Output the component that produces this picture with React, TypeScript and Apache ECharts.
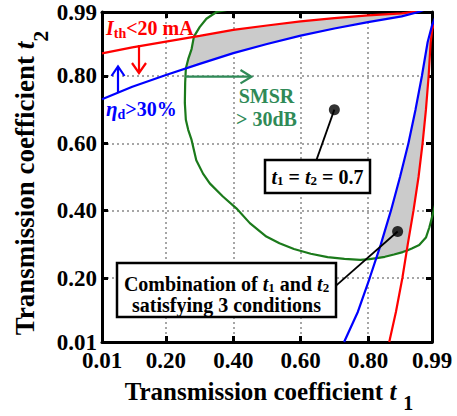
import React, { useEffect, useRef } from "react";
import * as echarts from "echarts";

const SERIF = '"Liberation Serif", "Times New Roman", Times, serif';

// axis values
const axisLabelValues = [0.01, 0.2, 0.4, 0.6, 0.8, 0.99];
const tickMarkValues = [0.2, 0.4, 0.6, 0.8];

// I_th < 20 mA boundary (red): upper branch (t1 -> t2) and right branch (bottom -> top)
const redUpper: number[][] = [
  [0.01, 0.867], [0.1, 0.885], [0.2, 0.902], [0.3, 0.919], [0.4, 0.937], [0.5, 0.95],
  [0.6, 0.962], [0.7, 0.972], [0.8, 0.98], [0.9, 0.986], [0.94, 0.991], [1.0, 1.02],
];
const redRight: number[][] = [
  [0.863, 0.01], [0.883, 0.1], [0.902, 0.2], [0.918, 0.3], [0.935, 0.4], [0.95, 0.5],
  [0.962, 0.6], [0.972, 0.7], [0.98, 0.8], [0.986, 0.9], [0.991, 0.94], [1.02, 1.0],
];

// eta_d > 30% boundary (blue)
const blueUpper: number[][] = [
  [0.01, 0.731], [0.1, 0.768], [0.2, 0.803], [0.3, 0.836], [0.4, 0.868], [0.5, 0.895],
  [0.6, 0.92], [0.7, 0.941], [0.8, 0.96], [0.9, 0.977], [0.95, 0.99], [1.0, 1.01],
];
const blueRight: number[][] = [
  [0.729, 0.01], [0.77, 0.1], [0.805, 0.2], [0.838, 0.3], [0.868, 0.4], [0.895, 0.5],
  [0.92, 0.6], [0.941, 0.7], [0.96, 0.8], [0.977, 0.9], [0.99, 0.95], [1.01, 1.0],
];

// crossings of the SMSR contour with the red / blue boundaries
const cornerRedTop = [0.283, 0.917];
const cornerBlueTop = [0.259, 0.822];
const cornerBlueBottom = [0.826, 0.259];
const cornerRedBottom = [0.916, 0.282];

// SMSR > 30 dB contour (green)
const smsrCurve: number[][] = [
  [0.4, 1.0], [0.35, 0.99], [0.32, 0.97], [0.3, 0.945], cornerRedTop, [0.276, 0.88],
  [0.266, 0.85], cornerBlueTop, [0.257, 0.78], [0.256, 0.72], [0.259, 0.67], [0.266, 0.64],
  [0.276, 0.61], [0.29, 0.55], [0.31, 0.51], [0.33, 0.481], [0.369, 0.442], [0.409, 0.407],
  [0.449, 0.363], [0.498, 0.323], [0.537, 0.303], [0.58, 0.286], [0.63, 0.272], [0.68, 0.262],
  [0.73, 0.257], [0.777, 0.254], [0.804, 0.256], cornerBlueBottom, [0.85, 0.263], [0.877, 0.27],
  [0.903, 0.277], cornerRedBottom, [0.93, 0.288], [0.952, 0.298], [0.972, 0.32], [0.982, 0.35],
  [0.99, 0.38], [1.0, 0.42],
];

// marked points and the ends of their leader lines
const markedPoints: number[][] = [[0.7, 0.7], [0.888, 0.338]];
const leaderTargets: number[][] = [[0.647, 0.551], [0.7, 0.173]];

const RED = "#ff0000";
const BLUE = "#0000ff";
const GREEN_CURVE = "#1b7a1b";
const GREEN_TEXT = "#2f8a57";
const GRAY_FILL = "#cbcbcb";

function buildRegion(): number[][] {
  const iBT = smsrCurve.indexOf(cornerBlueTop);
  const iRT = smsrCurve.indexOf(cornerRedTop);
  const iBB = smsrCurve.indexOf(cornerBlueBottom);
  const iRB = smsrCurve.indexOf(cornerRedBottom);
  const pts: number[][] = [];
  pts.push(cornerBlueTop);
  blueUpper.filter((p) => p[0] > cornerBlueTop[0]).forEach((p) => pts.push(p));
  blueRight.slice().reverse().filter((p) => p[1] > cornerBlueBottom[1]).forEach((p) => pts.push(p));
  smsrCurve.slice(iBB, iRB + 1).forEach((p) => pts.push(p));
  redRight.filter((p) => p[1] > cornerRedBottom[1]).forEach((p) => pts.push(p));
  redUpper.slice().reverse().filter((p) => p[0] > cornerRedTop[0]).forEach((p) => pts.push(p));
  smsrCurve.slice(iRT, iBT).forEach((p) => pts.push(p));
  return pts;
}

const tok = (size: number, italic: boolean, color: string, extra: any = {}) => ({
  fontSize: size,
  fontFamily: SERIF,
  fontWeight: "bold",
  fontStyle: italic ? "italic" : "normal",
  fill: color,
  color,
  ...extra,
});

export default function App() {
  const ref = useRef<HTMLDivElement>(null);
  useEffect(() => {
    if (!ref.current) return;
    const chart = echarts.init(ref.current, undefined, { renderer: "svg" });
    const region = buildRegion();
    const redFull = [...redUpper, ...redRight.slice().reverse()];
    const blueFull = [...blueUpper, ...blueRight.slice().reverse()];

    const mkX = (pos: "bottom" | "top") => ({
      type: "value",
      min: 0.01,
      max: 0.99,
      position: pos,
      axisLine: { show: true, onZero: false, lineStyle: { color: "#000", width: 3 } },
      axisTick: { show: true, inside: true, length: 6, customValues: tickMarkValues, lineStyle: { color: "#000", width: 3 } },
      axisLabel: {
        show: pos === "bottom",
        customValues: axisLabelValues,
        formatter: (v: number) => v.toFixed(2),
        fontSize: 23,
        fontWeight: "bold",
        fontFamily: SERIF,
        color: "#000",
        margin: 7,
      },
      splitLine: { show: pos === "bottom", lineStyle: { color: "#a6a6a6", width: 2, type: [2, 3] } },
    });
    const mkY = (pos: "left" | "right") => ({
      type: "value",
      min: 0.01,
      max: 0.99,
      position: pos,
      axisLine: { show: true, onZero: false, lineStyle: { color: "#000", width: 3 } },
      axisTick: { show: true, inside: true, length: 6, customValues: tickMarkValues, lineStyle: { color: "#000", width: 3 } },
      axisLabel: {
        show: pos === "left",
        customValues: axisLabelValues,
        formatter: (v: number) => v.toFixed(2),
        fontSize: 23,
        fontWeight: "bold",
        fontFamily: SERIF,
        color: "#000",
        margin: 5,
      },
      splitLine: { show: pos === "left", lineStyle: { color: "#a6a6a6", width: 2, type: [2, 3] } },
    });

    const lineSeries = (data: number[][], color: string, width = 2.2) => ({
      type: "line",
      data,
      showSymbol: false,
      symbol: "none",
      clip: true,
      z: 4,
      lineStyle: { color, width },
      emphasis: { disabled: true },
    });

    const option: any = {
      animation: false,
      grid: { left: 102, top: 12, width: 330, height: 330 },
      xAxis: [mkX("bottom"), mkX("top")],
      yAxis: [mkY("left"), mkY("right")],
      series: [
        {
          type: "custom",
          clip: true,
          z: 2,
          data: [[0.5, 0.5]],
          renderItem: (_p: any, api: any) => ({
            type: "polygon",
            shape: { points: region.map((p) => api.coord(p)) },
            style: { fill: GRAY_FILL, stroke: "none" },
          }),
        },
        lineSeries(smsrCurve, GREEN_CURVE),
        lineSeries(redFull, RED),
        lineSeries(blueFull, BLUE),
        ...markedPoints.map((p, i) => ({
          type: "line",
          data: [p, leaderTargets[i]],
          showSymbol: false,
          symbol: "none",
          z: 5,
          lineStyle: { color: "#000", width: 1.8 },
        })),
        {
          type: "scatter",
          data: markedPoints,
          symbol: "circle",
          symbolSize: 11,
          z: 6,
          itemStyle: { color: "#000" },
        },
      ],
      graphic: [
        // red annotation
        {
          type: "text", x: 106, y: 28, z: 100,
          style: {
            text: "{i|I}{s|th}{n|<20 mA}",
            align: "left", verticalAlign: "middle",
            ...tok(20, false, RED),
            rich: {
              i: tok(20, true, RED, { lineHeight: 22 }),
              n: tok(20, false, RED, { lineHeight: 22 }),
              s: tok(14, false, RED, { lineHeight: 14, padding: [11, 0, 0, 0] }),
            },
          },
        },
        { type: "line", z: 100, shape: { x1: 139, y1: 45, x2: 139, y2: 72 }, style: { stroke: RED, lineWidth: 2.2 } },
        { type: "polyline", z: 100, shape: { points: [[132, 63], [139, 73], [146, 63]] }, style: { stroke: RED, lineWidth: 2.2, fill: "none" } },
        // blue annotation
        { type: "line", z: 100, shape: { x1: 118, y1: 92, x2: 118, y2: 67.5 }, style: { stroke: BLUE, lineWidth: 2.2 } },
        { type: "polyline", z: 100, shape: { points: [[111.5, 76], [118, 66.5], [124.5, 76]] }, style: { stroke: BLUE, lineWidth: 2.2, fill: "none" } },
        {
          type: "text", x: 106, y: 109, z: 100,
          style: {
            text: "{i|η}{s|d}{n|>30%}",
            align: "left", verticalAlign: "middle",
            ...tok(20, false, BLUE),
            rich: {
              i: tok(21, true, BLUE, { lineHeight: 22 }),
              n: tok(20, false, BLUE, { lineHeight: 22 }),
              s: tok(14, false, BLUE, { lineHeight: 14, padding: [11, 0, 0, 0] }),
            },
          },
        },
        // green annotation
        { type: "line", z: 100, shape: { x1: 185, y1: 76.7, x2: 251, y2: 76.7 }, style: { stroke: GREEN_TEXT, lineWidth: 2.2 } },
        { type: "polyline", z: 100, shape: { points: [[240.5, 70], [251.5, 76.7], [240.5, 83.4]] }, style: { stroke: GREEN_TEXT, lineWidth: 2.2, fill: "none" } },
        {
          type: "text", x: 266.5, y: 107, z: 100,
          style: {
            text: "SMSR\n> 30dB",
            align: "center", verticalAlign: "middle",
            lineHeight: 23,
            ...tok(20, false, GREEN_TEXT),
          },
        },
        // box 1
        {
          type: "rect", z: 100,
          shape: { x: 265, y: 160, width: 105, height: 33 },
          style: { fill: "#fff", stroke: "#000", lineWidth: 2.5 },
        },
        {
          type: "text", x: 317.5, y: 176.5, z: 101,
          style: {
            text: "{i|t}{s|1}{n| = }{i|t}{s|2}{n| = 0.7}",
            align: "center", verticalAlign: "middle",
            ...tok(20, false, "#000"),
            rich: {
              i: tok(20, true, "#000", { lineHeight: 21 }),
              n: tok(20, false, "#000", { lineHeight: 21 }),
              s: tok(13, false, "#000", { lineHeight: 13, padding: [8, 0, 0, 0] }),
            },
          },
        },
        // box 2
        {
          type: "rect", z: 100,
          shape: { x: 117, y: 263, width: 219, height: 54 },
          style: { fill: "#fff", stroke: "#000", lineWidth: 2.5 },
        },
        {
          type: "text", x: 226.5, y: 294, z: 101,
          style: {
            text: "{n|Combination of }{i|t}{s|1}{n| and }{i|t}{s|2}\n{n|satisfying 3 conditions}",
            align: "center", verticalAlign: "middle",
            ...tok(20, false, "#000"),
            lineHeight: 21,
            rich: {
              i: tok(20, true, "#000", { lineHeight: 21 }),
              n: tok(20, false, "#000", { lineHeight: 21 }),
              s: tok(13, false, "#000", { lineHeight: 13, padding: [8, 0, 0, 0] }),
            },
          },
        },
        // x axis title
        {
          type: "text", x: 269, y: 391, z: 100,
          style: {
            text: "{n|Transmission coefficient }{i|t}{s|1}",
            align: "center", verticalAlign: "middle",
            ...tok(25, false, "#000"),
            rich: {
              n: tok(25, false, "#000", { lineHeight: 28 }),
              i: tok(25, true, "#000", { lineHeight: 28 }),
              s: tok(20, false, "#000", { lineHeight: 20, padding: [24, 0, 0, 7] }),
            },
          },
        },
        // y axis title
        {
          type: "text", x: 25, y: 183, z: 100, rotation: Math.PI / 2,
          style: {
            text: "{n|Transmission coefficient }{i|t}{s|2}",
            align: "center", verticalAlign: "middle",
            ...tok(27, false, "#000"),
            rich: {
              n: tok(27, false, "#000", { lineHeight: 30 }),
              i: tok(27, true, "#000", { lineHeight: 30 }),
              s: tok(22, false, "#000", { lineHeight: 22, padding: [30, 0, 0, 0] }),
            },
          },
        },
      ],
    };
    chart.setOption(option);
    return () => chart.dispose();
  }, []);
  return (
    <div
      ref={ref}
      style={{ position: "fixed", left: 0, top: 0, width: 457, height: 416, background: "#fff" }}
    />
  );
}
